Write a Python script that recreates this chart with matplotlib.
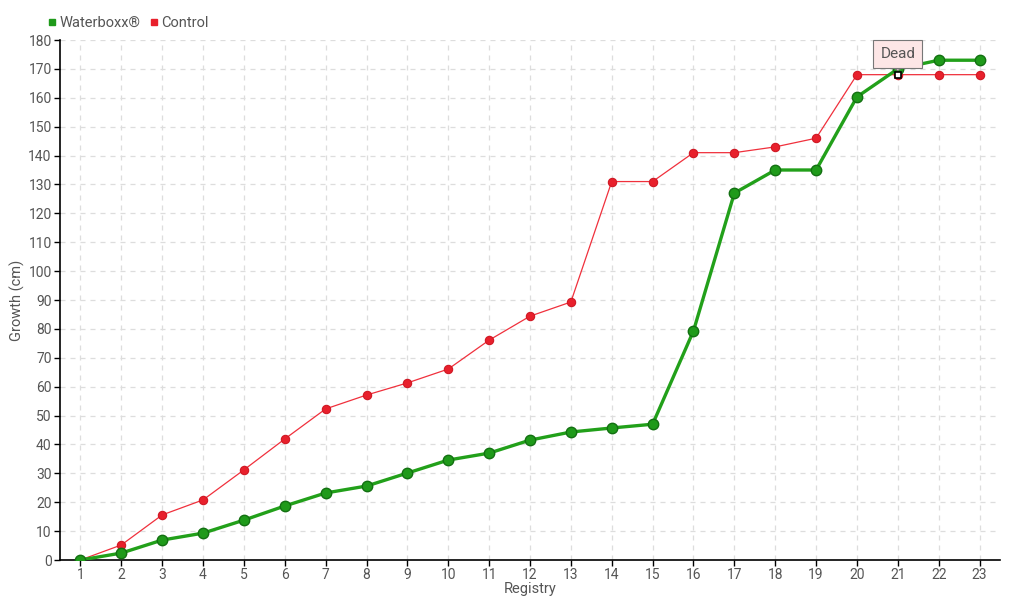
import matplotlib
matplotlib.use("Agg")
import matplotlib.pyplot as plt
from matplotlib.lines import Line2D

registry = list(range(1, 24))
waterboxx = [0, 2.4, 6.9, 9.3, 13.8, 18.7, 23.2, 25.6, 30.1, 34.6, 37, 41.5, 44.3, 45.7,
             47, 79.3, 127, 135, 135, 160.3, 170, 173, 173]
control = [0, 5.2, 15.6, 20.8, 31.2, 41.9, 52.3, 57.1, 61.3, 66.1, 76.1, 84.4, 89.3, 131,
           131, 141, 141, 143, 146, 168, 168, 168, 168]
dead_index = 20
dead_label = "Dead"
y_ticks = list(range(0, 181, 10))

plt.rcParams['font.family'] = ['Roboto', 'DejaVu Sans']
txt = '#555555'

fig = plt.figure(figsize=(10.2, 6), dpi=100)
ax = fig.add_axes([60/1020, 40/600, 940/1020, 520/600])

ax.plot(registry, control, color='#f0303c', lw=0.9, marker='o', ms=6,
        mfc='#e8202c', mec='#d01824', mew=0.8, zorder=3)
ax.plot(registry, waterboxx, color='#22a01a', lw=2.4, marker='o', ms=7.5,
        mfc='#1f9a1a', mec='#137012', mew=1.0, zorder=4)
ax.plot([registry[dead_index]], [control[dead_index]], marker='s', ms=4.5,
        mfc='white', mec='black', mew=1.2, ls='none', zorder=6)

ax.annotate(dead_label, xy=(registry[dead_index], control[dead_index]),
            xytext=(0, 15), textcoords='offset points', ha='center', va='center',
            fontsize=11, color=txt,
            bbox=dict(boxstyle='square,pad=0.45', fc='#fde6e6', ec='#777777', lw=0.8),
            arrowprops=dict(arrowstyle='wedge,tail_width=0.5,shrink_factor=0.5',
                            fc='#fde6e6', ec='#777777', lw=0.8, shrinkA=0, shrinkB=3),
            zorder=7)

ax.set_xlim(0.5, 23.5)
ax.set_ylim(0, 180)
ax.set_xticks(registry)
ax.set_yticks(y_ticks)
ax.tick_params(axis='both', colors='black', labelcolor=txt, labelsize=10,
               direction='out', length=4, width=1, pad=2)
ax.grid(True, color='#dddddd', ls=(0, (4, 4)), lw=0.9)
ax.set_axisbelow(True)
for s in ['top', 'right']:
    ax.spines[s].set_visible(False)
for s in ['left', 'bottom']:
    ax.spines[s].set_linewidth(1.2)
ax.set_xlabel('Registry', color=txt, fontsize=10.5, labelpad=0)
ax.set_ylabel('Growth (cm)', color=txt, fontsize=10.5)
ax.yaxis.set_label_coords(-35/940, 0.5)

handles = [Line2D([], [], ls='none', marker='s', ms=5, color='#1f9a1a'),
           Line2D([], [], ls='none', marker='s', ms=5, color='#e8202c')]
fig.legend(handles, ['Waterboxx®', 'Control'], loc='upper left',
           bbox_to_anchor=(42/1020, 1 - 10/600), ncol=2, frameon=False,
           handlelength=0.6, handletextpad=0.2, columnspacing=0.6,
           fontsize=10.5, labelcolor=txt, borderaxespad=0)

fig.savefig('out.png', dpi=100)
